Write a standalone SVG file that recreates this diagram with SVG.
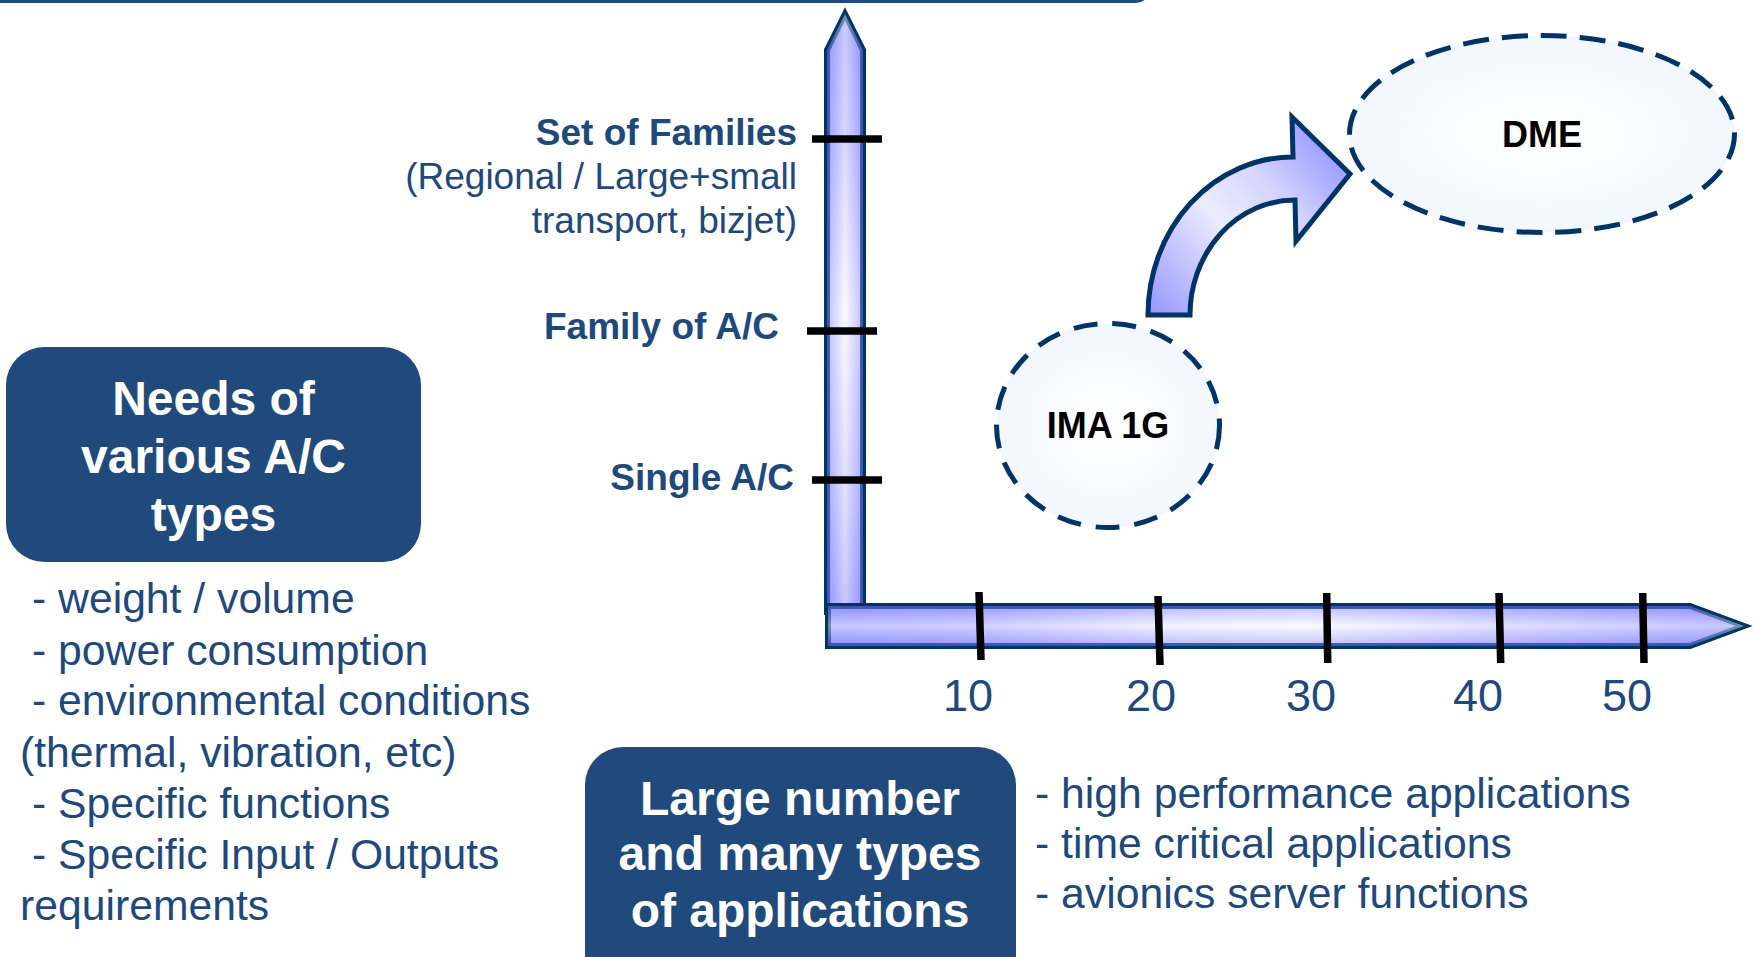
<svg xmlns="http://www.w3.org/2000/svg" width="1754" height="957" viewBox="0 0 1754 957">
<defs>
<style>
.box{fill:#214a7c}
.boxtxt{font-family:"Liberation Sans",Arial,sans-serif;font-weight:bold;font-size:48px;fill:#ffffff;text-anchor:middle}
.list{font-family:"Liberation Sans",Arial,sans-serif;font-size:42.7px;fill:#1f497d}
.ylab{font-family:"Liberation Sans",Arial,sans-serif;font-size:37px;fill:#1f497d;text-anchor:end}
.ylab.b{font-weight:bold}
.num{font-family:"Liberation Sans",Arial,sans-serif;font-size:45px;fill:#1f497d;text-anchor:middle}
.tick{stroke:#000000;stroke-width:7.5;fill:none}
.axis{stroke:#003366;stroke-width:6;stroke-linejoin:miter;stroke-miterlimit:10}
.cloud{fill:url(#cloudFill);stroke:#003366;stroke-width:5;stroke-dasharray:24 15}
.cloudtxt{font-family:"Liberation Sans",Arial,sans-serif;font-weight:bold;font-size:36px;fill:#000000;text-anchor:middle}
</style>
<linearGradient id="vGrad" gradientUnits="userSpaceOnUse" x1="0" y1="12" x2="0" y2="612">
<stop offset="0" stop-color="#9999ff"/>
<stop offset="0.2" stop-color="#b8b8ff"/>
<stop offset="0.5" stop-color="#f6f6ff"/>
<stop offset="0.8" stop-color="#c8c8ff"/>
<stop offset="1" stop-color="#9999ff"/>
</linearGradient>
<linearGradient id="vCross" gradientUnits="userSpaceOnUse" x1="827" y1="0" x2="863" y2="0">
<stop offset="0" stop-color="#7f7fff" stop-opacity="0.45"/>
<stop offset="0.5" stop-color="#ffffff" stop-opacity="0.45"/>
<stop offset="1" stop-color="#7f7fff" stop-opacity="0.45"/>
</linearGradient>
<linearGradient id="hGrad" gradientUnits="userSpaceOnUse" x1="828" y1="0" x2="1748" y2="0">
<stop offset="0" stop-color="#9999ff"/>
<stop offset="0.15" stop-color="#a8a8ff"/>
<stop offset="0.38" stop-color="#eaeaff"/>
<stop offset="0.52" stop-color="#f8f8ff"/>
<stop offset="0.75" stop-color="#c4c4ff"/>
<stop offset="1" stop-color="#9494ff"/>
</linearGradient>
<linearGradient id="hCross" gradientUnits="userSpaceOnUse" x1="0" y1="606" x2="0" y2="646">
<stop offset="0" stop-color="#7f7fff" stop-opacity="0.45"/>
<stop offset="0.5" stop-color="#ffffff" stop-opacity="0.45"/>
<stop offset="1" stop-color="#7f7fff" stop-opacity="0.45"/>
</linearGradient>
<linearGradient id="cGrad" gradientUnits="userSpaceOnUse" x1="1160" y1="320" x2="1345" y2="160">
<stop offset="0" stop-color="#9999ff"/>
<stop offset="0.45" stop-color="#ececff"/>
<stop offset="0.7" stop-color="#d4d4ff"/>
<stop offset="1" stop-color="#9999ff"/>
</linearGradient>
<radialGradient id="cloudFill" cx="0.5" cy="0.5" r="0.5">
<stop offset="0" stop-color="#ffffff"/>
<stop offset="1" stop-color="#f2f7ff"/>
</radialGradient>
</defs>

<rect width="1754" height="957" fill="#ffffff"/>

<g id="node-topbar">
<rect class="box" x="-30" y="-60" width="1180" height="63" rx="14"/>
</g>

<g id="node-yaxis">
<path class="axis" d="M827,612 V50 L845,14 L863,50 V612 Z" fill="url(#vGrad)"/>
<path d="M827,612 V50 L845,14 L863,50 V612 Z" fill="url(#vCross)"/>
<line class="tick" x1="812" y1="139" x2="882" y2="139"/>
<line class="tick" x1="807" y1="331" x2="877" y2="331"/>
<line class="tick" x1="812" y1="480" x2="882" y2="480"/>
<text class="ylab b" x="797" y="145">Set of Families</text>
<text class="ylab" x="797" y="189">(Regional / Large+small</text>
<text class="ylab" x="797" y="233">transport, bizjet)</text>
<text class="ylab b" x="779" y="339">Family of A/C</text>
<text class="ylab b" x="794" y="490">Single A/C</text>
</g>

<g id="node-xaxis">
<path class="axis" d="M828,606 H1690 L1744,626 L1690,646 H828 Z" fill="url(#hGrad)"/>
<path d="M828,606 H1690 L1744,626 L1690,646 H828 Z" fill="url(#hCross)"/>
<line class="tick" x1="979" y1="592" x2="981" y2="660"/>
<line class="tick" x1="1158" y1="596" x2="1160" y2="665"/>
<line class="tick" x1="1326.7" y1="593" x2="1327.7" y2="663"/>
<line class="tick" x1="1499" y1="593" x2="1500.7" y2="663"/>
<line class="tick" x1="1642.7" y1="593" x2="1644" y2="663"/>
<text class="num" x="968" y="711">10</text>
<text class="num" x="1151" y="711">20</text>
<text class="num" x="1311" y="711">30</text>
<text class="num" x="1478" y="711">40</text>
<text class="num" x="1627" y="711">50</text>
</g>

<g id="node-ima">
<ellipse class="cloud" cx="1108" cy="425.5" rx="111.5" ry="102"/>
<text class="cloudtxt" x="1108" y="438">IMA 1G</text>
</g>

<g id="node-dme">
<ellipse class="cloud" cx="1542" cy="134" rx="192.5" ry="98.5" style="stroke-dasharray:26 13"/>
<text class="cloudtxt" x="1542" y="147">DME</text>
</g>

<g id="connectors">
<path class="axis" style="stroke-width:5" fill="url(#cGrad)" d="M1148,315 A145,158 0 0 1 1293,157 L1292,117 L1350,174 L1296,241 L1295,200 A105,115 0 0 0 1190,315 Z"/>
</g>

<g id="node-needs">
<rect class="box" x="6" y="347" width="415" height="215" rx="38"/>
<text class="boxtxt" x="213.5" y="415">Needs of</text>
<text class="boxtxt" x="213.5" y="473">various A/C</text>
<text class="boxtxt" x="213.5" y="531">types</text>
</g>

<g id="node-needs-list">
<text class="list" x="32" y="613">- weight / volume</text>
<text class="list" x="32" y="665">- power consumption</text>
<text class="list" x="32" y="715">- environmental conditions</text>
<text class="list" x="20" y="767">(thermal, vibration, etc)</text>
<text class="list" x="32" y="818">- Specific functions</text>
<text class="list" x="32" y="869">- Specific Input / Outputs</text>
<text class="list" x="20" y="920">requirements</text>
</g>

<g id="node-apps">
<rect class="box" x="585" y="747" width="431" height="260" rx="38"/>
<text class="boxtxt" x="800" y="815">Large number</text>
<text class="boxtxt" x="800" y="870">and many types</text>
<text class="boxtxt" x="800" y="927">of applications</text>
</g>

<g id="node-apps-list">
<text class="list" x="1035" y="808">- high performance applications</text>
<text class="list" x="1035" y="858">- time critical applications</text>
<text class="list" x="1035" y="908">- avionics server functions</text>
</g>
</svg>
